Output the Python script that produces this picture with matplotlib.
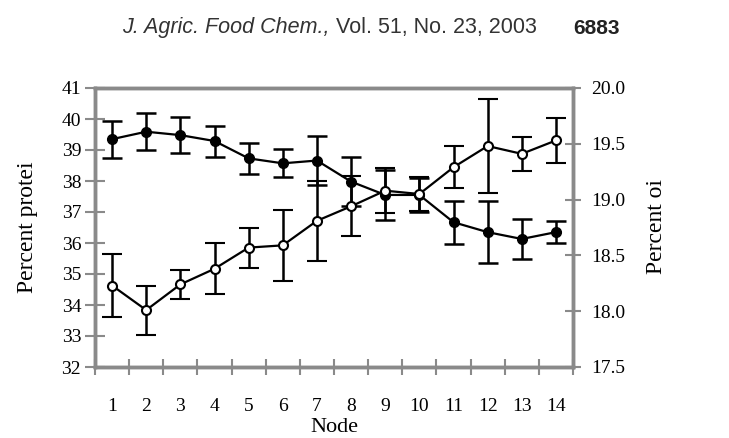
import matplotlib.pyplot as plt
import numpy as np
from matplotlib.ticker import MultipleLocator

# data
nodes = np.arange(1, 15)
protein = [39.35, 39.59, 39.48, 39.29, 38.73, 38.57, 38.66, 37.98, 37.55, 37.55, 36.67, 36.35, 36.13, 36.35]
protein_err = [0.6, 0.6, 0.57, 0.5, 0.5, 0.45, 0.8, 0.8, 0.8, 0.55, 0.7, 1.0, 0.65, 0.35]
oil = [18.23, 18.01, 18.24, 18.38, 18.57, 18.59, 18.81, 18.94, 19.08, 19.05, 19.29, 19.48, 19.41, 19.53]
oil_err = [0.28, 0.22, 0.13, 0.23, 0.18, 0.32, 0.36, 0.27, 0.2, 0.15, 0.19, 0.42, 0.15, 0.2]

serif = ['Liberation Serif', 'DejaVu Serif']
spine_col = '#8a8a8a'

fig = plt.figure(figsize=(7.29, 4.38), dpi=100)
ax = fig.add_axes([95 / 729, 71 / 438, 478 / 729, 279 / 438])
ax2 = ax.twinx()

ax.errorbar(nodes, protein, yerr=protein_err, color='black', lw=1.6, elinewidth=1.8,
            capsize=7, capthick=1.8, marker='o', ms=7, mfc='black', mec='black', zorder=3)
ax2.errorbar(nodes, oil, yerr=oil_err, color='black', lw=1.6, elinewidth=1.8,
             capsize=7, capthick=1.8, marker='o', ms=6.5, mfc='white', mec='black', mew=1.5, zorder=3)

ax.set_xlim(0.5, 14.5)
ax.set_ylim(32, 41)
ax2.set_ylim(17.5, 20.0)
ax.set_yticks(range(32, 42))
ax2.set_yticks([17.5, 18.0, 18.5, 19.0, 19.5, 20.0])
ax2.set_yticklabels(['17.5', '18.0', '18.5', '19.0', '19.5', '20.0'])
ax.set_xticks(nodes)
ax.xaxis.set_minor_locator(MultipleLocator(1, offset=0.5))

for a in (ax, ax2):
    for s in a.spines.values():
        s.set_color(spine_col)
        s.set_linewidth(2.5)
ax.tick_params(axis='x', which='major', length=0, pad=22)
ax.tick_params(axis='x', which='minor', direction='inout', length=12, width=1.5, color=spine_col)
ax.tick_params(axis='y', direction='inout', length=14, width=1.5, color=spine_col, pad=3)
ax2.tick_params(axis='y', direction='inout', length=12, width=1.5, color=spine_col, pad=7)

for lab in ax.get_xticklabels() + ax.get_yticklabels() + ax2.get_yticklabels():
    lab.set_fontfamily(serif)
    lab.set_fontsize(14)

fig.text(334 / 729, 1 - 427 / 438, 'Node', ha='center', va='center',
         fontfamily=serif, fontsize=16)
fig.text(28 / 729, 1 - 227 / 438, 'Percent protei', rotation=90, ha='center', va='center',
         fontfamily=serif, fontsize=17)
fig.text(657 / 729, 1 - 227 / 438, 'Percent oi', rotation=90, ha='center', va='center',
         fontfamily=serif, fontsize=17)

# running header
sans = ['Liberation Sans', 'DejaVu Sans']
hy = 1 - 28 / 438
t1 = fig.text(122 / 729, hy, 'J. Agric. Food Chem.,', fontstyle='italic', fontfamily=sans,
              fontsize=15.5, va='center', color='#333333')
fig.canvas.draw()
x_end = t1.get_window_extent().x1 / 729
fig.text(x_end + 6 / 729, hy, 'Vol. 51, No. 23, 2003', fontfamily=sans,
         fontsize=15.5, va='center', color='#333333')
fig.text(620 / 729, hy, '6883', fontweight='bold', fontfamily=sans, ha='right',
         fontsize=15, va='center', color='#222222')

fig.savefig('out.png', dpi=100)
